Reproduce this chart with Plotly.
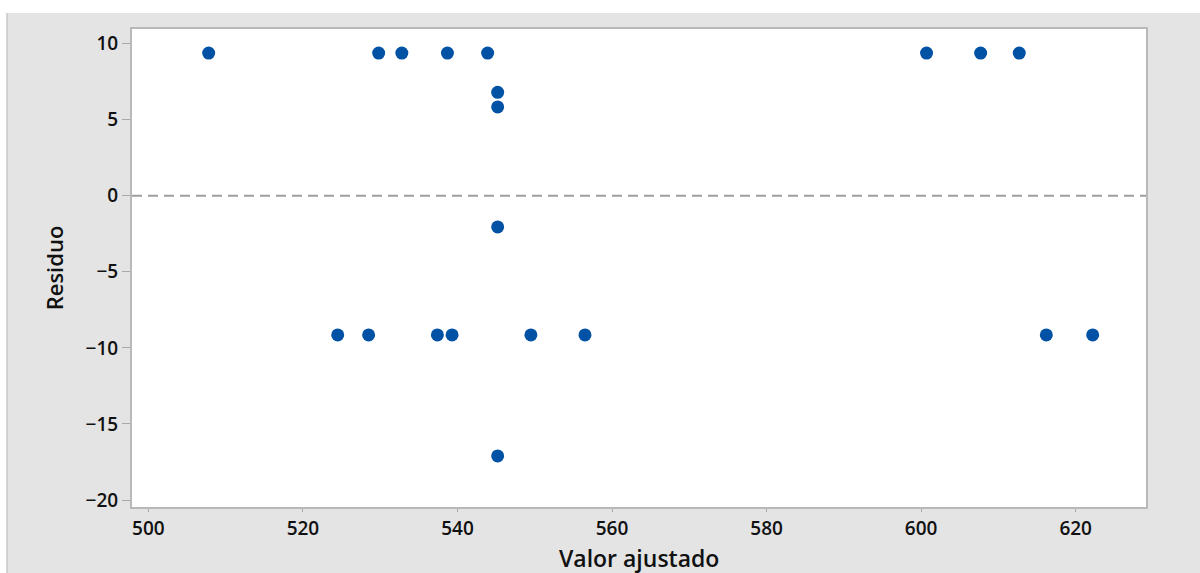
import plotly.graph_objects as go

# Fitted values and residuals
valor_ajustado = [507.8, 529.8, 532.8, 538.7, 543.9, 600.7, 607.7, 612.7,
                  545.2, 545.2, 545.2, 545.2,
                  524.5, 528.5, 537.4, 539.3, 549.5, 556.5, 616.2, 622.2]
residuo = [9.38, 9.38, 9.38, 9.38, 9.38, 9.38, 9.38, 9.38,
           6.80, 5.84, -2.05, -17.1,
           -9.15, -9.15, -9.15, -9.15, -9.15, -9.15, -9.15, -9.15]

x_ticks = [500, 520, 540, 560, 580, 600, 620]
y_ticks = [10, 5, 0, -5, -10, -15, -20]

BG = "#e4e4e4"
FONT = "Open Sans, Noto Sans, sans-serif"
INK = "#111111"

fig = go.Figure()
fig.add_trace(go.Scatter(
    x=valor_ajustado, y=residuo, mode="markers",
    marker=dict(color="#0152a4", size=13, line=dict(width=0)),
    showlegend=False, hoverinfo="x+y",
))

# Reference line at zero residual
fig.add_shape(type="line", xref="paper", yref="y", x0=0, x1=1, y0=0, y1=0,
              line=dict(color="#9e9e9e", width=2, dash="10px,6px"), layer="below")

# White strips around the grey panel (top and left)
fig.add_shape(type="rect", xref="paper", yref="paper",
              xsizemode="pixel", ysizemode="pixel", xanchor=0, yanchor=1,
              x0=-200, x1=2000, y0=16, y1=60,
              fillcolor="white", line=dict(width=0), layer="below")
fig.add_shape(type="rect", xref="paper", yref="paper",
              xsizemode="pixel", ysizemode="pixel", xanchor=0, yanchor=0,
              x0=-200, x1=-125, y0=-200, y1=600,
              fillcolor="white", line=dict(width=0), layer="below")
fig.add_shape(type="line", xref="paper", yref="paper",
              xsizemode="pixel", ysizemode="pixel", xanchor=0, yanchor=0,
              x0=-125, x1=-125, y0=-100, y1=494,
              line=dict(color="#c9c9c9", width=1.5), layer="below")

# X-axis title placed below the tick labels
fig.add_annotation(text="Valor ajustado", xref="paper", yref="paper",
                   x=0.5, y=0, xanchor="center", yanchor="middle",
                   yshift=-51, showarrow=False,
                   font=dict(size=23, family=FONT, color=INK, weight=600))

fig.update_layout(
    width=1200, height=573,
    margin=dict(l=132, r=54, t=29, b=66, autoexpand=False),
    paper_bgcolor=BG, plot_bgcolor="white",
    font=dict(family=FONT, color=INK),
)
fig.update_xaxes(
    range=[497.88, 629.1], tickvals=x_ticks, automargin=False,
    ticks="outside", ticklen=3, tickcolor="#a8a8a8", tickwidth=1,
    tickfont=dict(size=19, family=FONT, color=INK, weight=600),
    showgrid=False, zeroline=False,
    showline=True, linecolor="#b8b8b8", linewidth=2, mirror=True,
)
fig.update_yaxes(
    range=[-20.46, 10.96], tickvals=y_ticks, automargin=False,
    ticks="outside", ticklen=8, tickcolor="#a8a8a8", tickwidth=1,
    tickfont=dict(size=19, family=FONT, color=INK, weight=600),
    showgrid=False, zeroline=False,
    showline=True, linecolor="#b8b8b8", linewidth=2, mirror=True,
    title=dict(text="Residuo",
               font=dict(size=22, family=FONT, color=INK, weight=600),
               standoff=16),
)

fig.write_html("out.html")
